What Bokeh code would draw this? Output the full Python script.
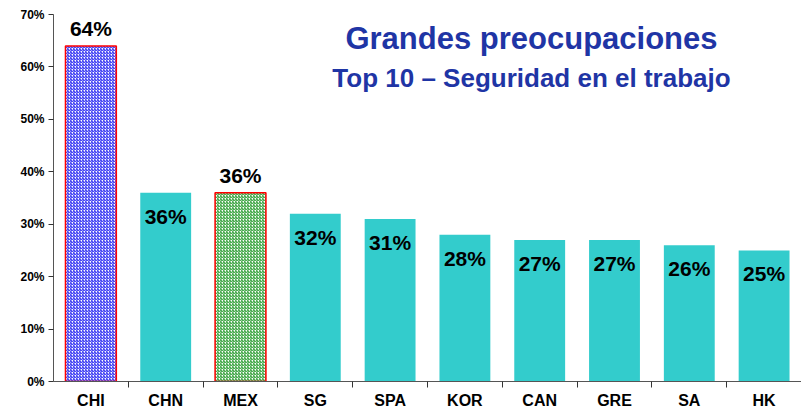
from bokeh.plotting import figure
from bokeh.models import ColumnDataSource, FixedTicker, PrintfTickFormatter, Label, Range1d
from bokeh.core.properties import value
from bokeh.embed import file_html
from bokeh.resources import INLINE

categories = ["CHI", "CHN", "MEX", "SG", "SPA", "KOR", "CAN", "GRE", "SA", "HK"]
values = [64, 36, 36, 32, 31, 28, 27, 27, 26, 25]
highlight = ["blue", None, "green", None, None, None, None, None, None, None]
y_ticks = [0, 10, 20, 30, 40, 50, 60, 70]

xs = list(range(len(categories)))
plain = ColumnDataSource(dict(
    x=[x for x, h in zip(xs, highlight) if h is None],
    top=[v for v, h in zip(values, highlight) if h is None],
    label=[f"{v}%" for v, h in zip(values, highlight) if h is None],
))
hi = ColumnDataSource(dict(
    x=[x for x, h in zip(xs, highlight) if h is not None],
    top=[v for v, h in zip(values, highlight) if h is not None],
    hatch=[{"blue": "#1010f0", "green": "#12921a"}[h] for h in highlight if h is not None],
    label=[f"{v}%" for v, h in zip(values, highlight) if h is not None],
))

FONT = "Liberation Sans"

p = figure(width=801, height=411, output_backend="svg", toolbar_location=None,
           x_range=Range1d(-0.5, len(categories) - 0.5), y_range=Range1d(0, 70),
           min_border_left=53, min_border_right=0, min_border_top=14, min_border_bottom=20)
p.outline_line_color = None
p.grid.visible = False

p.vbar(x="x", top="top", width=0.68, source=plain, fill_color="#33CCCC", line_color=None)
p.vbar(x="x", top="top", width=0.68, source=hi, fill_color="white", line_color="#ff0000",
       line_width=1.5, hatch_pattern="right_diagonal_line", hatch_color="hatch",
       hatch_scale=3, hatch_weight=1)

p.text(x="x", y="top", text="label", source=plain, text_align="center", text_baseline="top",
       y_offset=12, text_font_size="21px", text_font_style="bold", text_color="black",
       text_font=value(FONT))
p.text(x="x", y="top", text="label", source=hi, text_align="center", text_baseline="bottom",
       y_offset=-6, text_font_size="21px", text_font_style="bold", text_color="black",
       text_font=value(FONT))

p.add_layout(Label(x=5.89, y=65.5, text="Grandes preocupaciones", text_align="center",
                   text_baseline="middle", text_font=FONT, text_font_size="31px",
                   text_font_style="bold", text_color="#1f35a5"))
p.add_layout(Label(x=5.89, y=57.8, text="Top 10 \u2013 Seguridad en el trabajo", text_align="center",
                   text_baseline="middle", text_font=FONT, text_font_size="26px",
                   text_font_style="bold", text_color="#1f35a5"))

xa = p.xaxis[0]
xa.ticker = FixedTicker(ticks=xs, minor_ticks=[x + 0.5 for x in xs[:-1]])
xa.major_label_overrides = {x: c for x, c in zip(xs, categories)}
xa.major_tick_out = 0
xa.major_tick_in = 0
xa.minor_tick_out = 6
xa.minor_tick_in = 0
xa.minor_tick_line_color = "#333333"
xa.axis_line_color = "#555555"
xa.major_label_standoff = 4
xa.major_label_text_font = FONT
xa.major_label_text_font_style = "bold"
xa.major_label_text_font_size = "16px"
xa.major_label_text_color = "black"

ya = p.yaxis[0]
ya.ticker = FixedTicker(ticks=y_ticks, minor_ticks=[])
ya.formatter = PrintfTickFormatter(format="%d%%")
ya.major_tick_out = 5
ya.major_tick_in = 0
ya.minor_tick_out = 0
ya.axis_line_color = "#555555"
ya.major_tick_line_color = "#333333"
ya.major_label_standoff = 4
ya.major_label_text_font = FONT
ya.major_label_text_font_style = "bold"
ya.major_label_text_font_size = "12px"
ya.major_label_text_color = "black"

open("out.html", "w").write(file_html(p, INLINE))
